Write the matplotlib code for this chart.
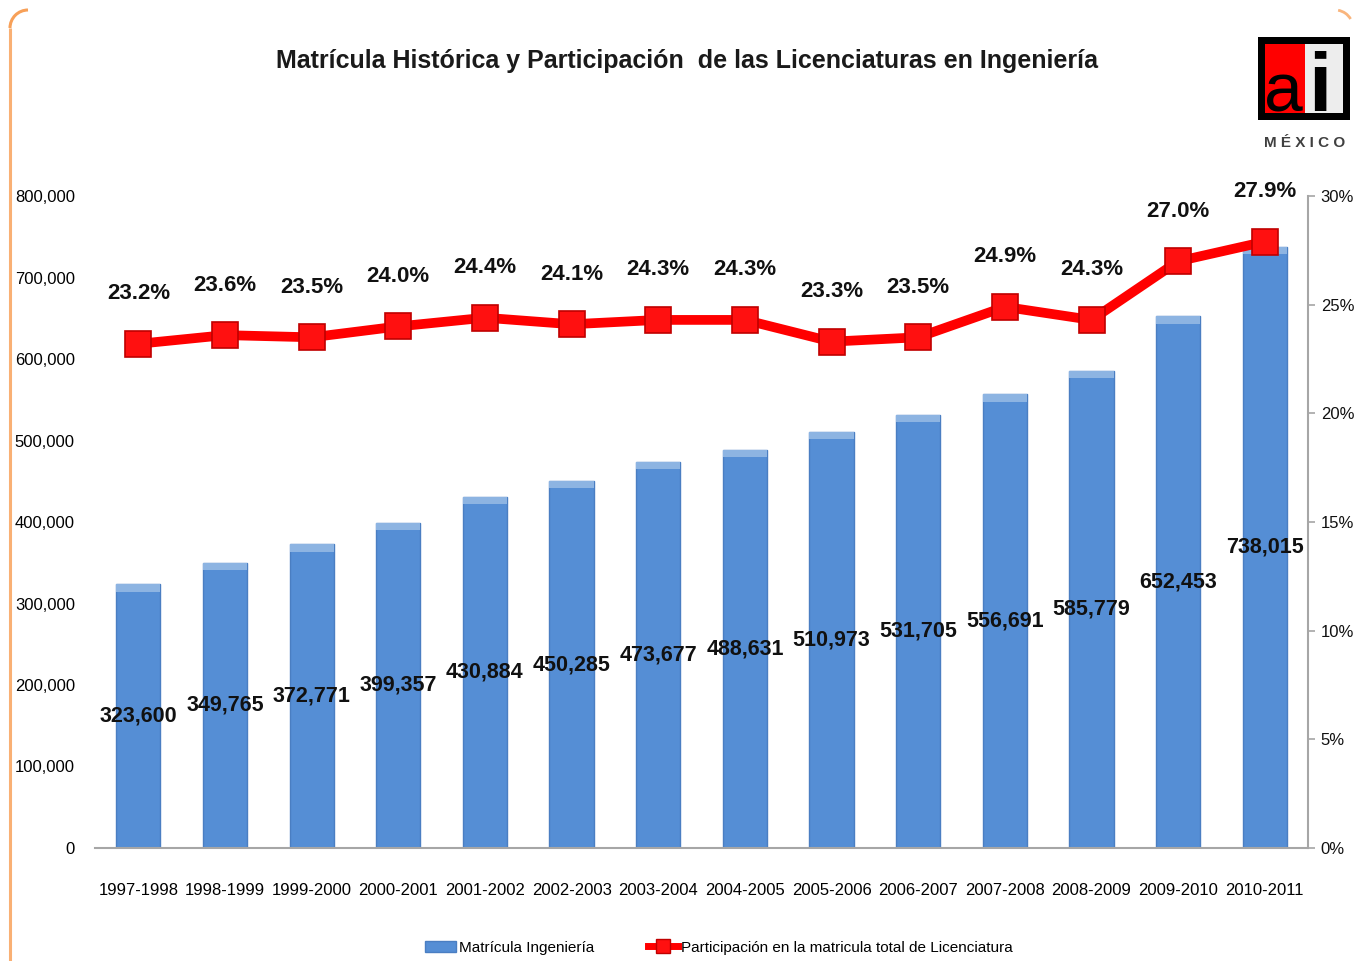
import matplotlib.pyplot as plt
import numpy as np
from matplotlib.patches import Rectangle, Arc
from matplotlib.lines import Line2D
from matplotlib.patches import Patch

plt.rcParams['font.family'] = ['Liberation Sans', 'DejaVu Sans']

# data
ciclos = ["1997-1998", "1998-1999", "1999-2000", "2000-2001", "2001-2002",
          "2002-2003", "2003-2004", "2004-2005", "2005-2006", "2006-2007",
          "2007-2008", "2008-2009", "2009-2010", "2010-2011"]
matricula = [323600, 349765, 372771, 399357, 430884, 450285, 473677,
             488631, 510973, 531705, 556691, 585779, 652453, 738015]
participacion = [23.2, 23.6, 23.5, 24.0, 24.4, 24.1, 24.3,
                 24.3, 23.3, 23.5, 24.9, 24.3, 27.0, 27.9]

W, H = 1357, 961
fig = plt.figure(figsize=(W / 100, H / 100), dpi=100)

# decoration layer in pixel coords (border, logo)
deco = fig.add_axes([0, 0, 1, 1], zorder=0)
deco.set_xlim(0, W)
deco.set_ylim(H, 0)
deco.axis('off')
orange = '#F79646'
deco.plot([10, 10], [28, H], color=orange, lw=2.2, alpha=0.75, solid_capstyle='butt')
deco.add_patch(Arc((28, 28), 36, 36, theta1=180, theta2=270, color=orange, lw=2.2, alpha=0.9))
deco.add_patch(Arc((1335, 28), 36, 36, theta1=280, theta2=330, color=orange, lw=2.0, alpha=0.7))

# logo "ai MEXICO"
deco.add_patch(Rectangle((1258, 37), 92, 83, facecolor='black', edgecolor='none'))
deco.add_patch(Rectangle((1265, 44), 40, 69, facecolor='#FF0000', edgecolor='none'))
deco.add_patch(Rectangle((1305, 44), 38, 69, facecolor='#EDEDED', edgecolor='none'))
deco.text(1283, 112, "a", fontsize=50, ha='center', va='baseline', color='black')
deco.text(1320, 112, "i", fontsize=60, fontweight='bold', ha='center', va='baseline', color='black')
deco.text(1305, 143, "M É X I C O", fontsize=11, fontweight='bold',
          ha='center', va='center', color='#404040')

# title
fig.text(0.506, 0.937, "Matrícula Histórica y Participación  de las Licenciaturas en Ingeniería",
         fontsize=18, fontweight='bold', ha='center', va='center', color='#1a1a1a')

ax = fig.add_axes([0.070, 0.1176, 0.894, 0.6784], zorder=1)
ax.patch.set_alpha(0)
x = np.arange(len(ciclos))
ax.bar(x, matricula, width=0.51, color='#558ED5', edgecolor='#4A7EC2', linewidth=1.0, zorder=2)
# lighter top cap of each bar
ax.bar(x, 9000, bottom=np.array(matricula) - 9000, width=0.51, color='#8DB4E2',
       edgecolor='none', zorder=2.5)

ax.set_xlim(-0.5, len(ciclos) - 0.5)
ax.set_ylim(0, 800000)
ax.set_yticks(np.arange(0, 800001, 100000))
ax.set_yticklabels([f"{int(v):,}" for v in np.arange(0, 800001, 100000)], fontsize=12)
ax.set_xticks(x)
ax.set_xticklabels(ciclos, fontsize=12)
for s in ['left', 'right', 'top']:
    ax.spines[s].set_visible(False)
ax.spines['bottom'].set_color('#A6A6A6')
ax.spines['bottom'].set_linewidth(1.5)

for i, v in enumerate(matricula):
    ax.text(i, v / 2, f"{v:,}", ha='center', va='center', fontsize=15.5, fontweight='bold',
            color='#111111', zorder=5)

ax2 = ax.twinx()
# twinx turns the left ticks back on, so set them after it
ax.tick_params(axis='y', left=False, right=False, pad=11)
ax.tick_params(axis='x', bottom=False, pad=22)
ax2.set_ylim(0, 30)
ax2.set_yticks(np.arange(0, 31, 5))
ax2.set_yticklabels([f"{v}%" for v in range(0, 31, 5)], fontsize=12)
ax2.plot(x, participacion, color='#FF0000', lw=7, marker='s', markersize=19,
         markerfacecolor='#FF1010', markeredgecolor='#C00000', markeredgewidth=1.2, zorder=3)
for s in ['left', 'top', 'bottom']:
    ax2.spines[s].set_visible(False)
ax2.spines['right'].set_color('#A6A6A6')
ax2.spines['right'].set_linewidth(1.5)
ax2.tick_params(axis='y', colors='#A6A6A6', length=5, width=1.2, pad=4, labelcolor='#111111')

for i, p in enumerate(participacion):
    ax2.annotate(f"{p:.1f}%", (i, p), xytext=(0, 36), textcoords='offset points',
                 ha='center', va='center', fontsize=16, fontweight='bold', color='#111111')

handles = [Patch(facecolor='#558ED5', edgecolor='#4A7EC2'),
           Line2D([0], [0], color='#FF0000', lw=5, marker='s', markersize=10,
                  markerfacecolor='#FF1010', markeredgecolor='#C00000')]
fig.legend(handles, ["Matrícula Ingeniería", "Participación en la matricula total de Licenciatura"],
           loc='center', bbox_to_anchor=(0.53, 0.014), ncol=2, frameon=False, fontsize=11,
           columnspacing=3.5, handlelength=2.0, handletextpad=0.2)

fig.savefig("out.png", dpi=100)
